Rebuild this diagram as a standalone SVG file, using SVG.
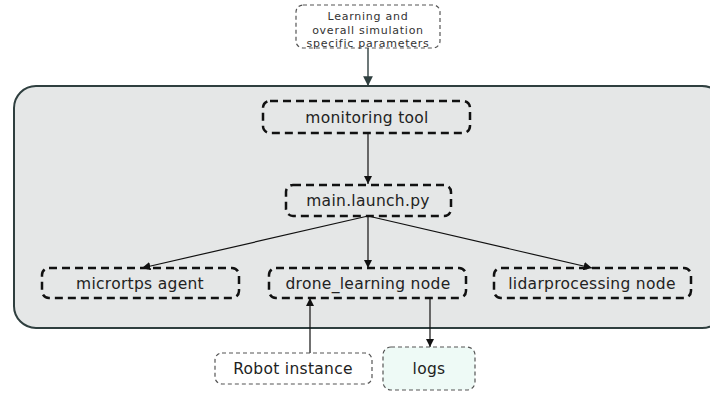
<svg xmlns="http://www.w3.org/2000/svg" width="710" height="393" viewBox="0 0 710 393">
<defs>
<marker id="ah" viewBox="0 0 10 10" refX="10" refY="5" markerWidth="7" markerHeight="7" orient="auto-start-reverse">
<path d="M0,0 L10,5 L0,10 z" fill="#111"/>
</marker>
<marker id="ahg" viewBox="0 0 10 10" refX="10" refY="5" markerWidth="7" markerHeight="7" orient="auto">
<path d="M0,0 L10,5 L0,10 z" fill="#2f3f3f"/>
</marker>
<style>
.t{font-family:"DejaVu Sans","Noto Sans",sans-serif;fill:#222;text-anchor:middle;dominant-baseline:central;font-size:15.5px;letter-spacing:0.3px}
.s{font-family:"DejaVu Sans","Noto Sans",sans-serif;fill:#333;text-anchor:middle;dominant-baseline:central;font-size:11px;letter-spacing:0.75px}
.thick{fill:none;stroke:#111;stroke-width:2.5;stroke-dasharray:8 5}
.thin{stroke:#555;stroke-width:1.2;stroke-dasharray:4 3}
.c{fill:none;stroke:#111;stroke-width:1.2}
</style>
</defs>
<rect width="710" height="393" fill="#fff"/>
<g id="container">
<rect x="14" y="86" width="710" height="242" rx="22" fill="#e5e7e7" stroke="#2f3f3f" stroke-width="2"/>
</g>
<g id="connectors">
<line x1="368" y1="48" x2="368" y2="86" stroke="#2f3f3f" stroke-width="1.4" marker-end="url(#ahg)"/>
<line class="c" x1="368" y1="133" x2="368" y2="184" marker-end="url(#ah)"/>
<line class="c" x1="368" y1="216" x2="142" y2="268" marker-end="url(#ah)"/>
<line class="c" x1="368" y1="216" x2="368" y2="268" marker-end="url(#ah)"/>
<line class="c" x1="368" y1="216" x2="592" y2="268" marker-end="url(#ah)"/>
<line class="c" x1="310" y1="353" x2="310" y2="298" marker-end="url(#ah)"/>
<line class="c" x1="430" y1="298" x2="430" y2="347" marker-end="url(#ah)"/>
</g>
<g id="params">
<rect class="thin" x="296" y="5" width="144" height="43" rx="7" fill="#fff"/>
<text class="s" x="368" y="16.5">Learning and</text>
<text class="s" x="368" y="30">overall simulation</text>
<text class="s" x="368" y="43.5">specific parameters</text>
</g>
<g id="monitoring">
<rect class="thick" x="263" y="101" width="207" height="32" rx="7"/>
<text class="t" x="367" y="118">monitoring tool</text>
</g>
<g id="main">
<rect class="thick" x="286" y="185" width="165" height="31" rx="7"/>
<text class="t" x="368" y="201">main.launch.py</text>
</g>
<g id="micrortps">
<rect class="thick" x="42" y="268" width="197" height="30" rx="7"/>
<text class="t" x="140" y="284">micrortps agent</text>
</g>
<g id="drone">
<rect class="thick" x="269" y="268" width="197" height="30" rx="7"/>
<text class="t" x="368" y="284">drone_learning node</text>
</g>
<g id="lidar">
<rect class="thick" x="494" y="268" width="197" height="30" rx="7"/>
<text class="t" x="592" y="284">lidarprocessing node</text>
</g>
<g id="robot">
<rect class="thin" x="215" y="353" width="157" height="31" rx="7" fill="#fff"/>
<text class="t" x="293" y="369">Robot instance</text>
</g>
<g id="logs">
<rect class="thin" x="383" y="347" width="92" height="43" rx="8" fill="#eefaf6"/>
<text class="t" x="429" y="369">logs</text>
</g>
</svg>
